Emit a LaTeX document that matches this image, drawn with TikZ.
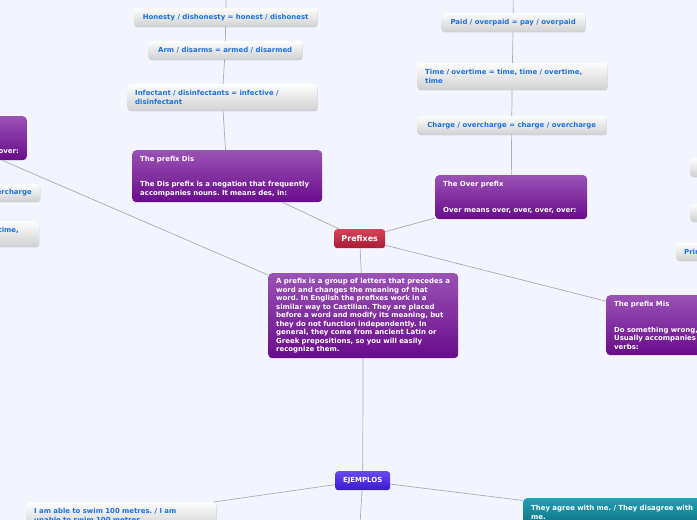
\documentclass[tikz,border=0pt]{standalone}
\usepackage{fontspec}
\setmainfont{DejaVu Sans}
\usepackage{tikz}
\usetikzlibrary{shadows}
\definecolor{pagebg}{HTML}{F2F5FE}
\definecolor{linegray}{HTML}{A8ADB8}
\definecolor{bluetext}{HTML}{1A73E0}
\definecolor{greytop}{HTML}{FDFDFD}
\definecolor{greybot}{HTML}{D2D2D2}
\definecolor{purpletop}{HTML}{9A52B5}
\definecolor{purplebot}{HTML}{690C8B}
\definecolor{redtop}{HTML}{D5435A}
\definecolor{redbot}{HTML}{A91B33}
\definecolor{violettop}{HTML}{6A4AF2}
\definecolor{violetbot}{HTML}{3A18CF}
\definecolor{tealtop}{HTML}{22A0B2}
\definecolor{tealbot}{HTML}{0C7183}
\frenchspacing
\tikzset{every node/.append style={font=\fontsize{6.95}{8.5}\selectfont\bfseries}}

\begin{document}
\begin{tikzpicture}[x=1pt,y=-1pt,
  link/.style={draw=linegray,line width=0.7pt},
  leaf/.style={rounded corners=3pt,top color=greytop,bottom color=greybot,text=bluetext,
    inner xsep=8pt,inner ysep=2pt,
    drop shadow={shadow xshift=0.5pt,shadow yshift=-1.2pt,opacity=0.3}},
  topic/.style={rounded corners=4pt,top color=purpletop,bottom color=purplebot,text=white,
    inner xsep=8pt,inner ysep=2pt,align=left},
  hub/.style={anchor=north west,rounded corners=3pt,text=white,inner sep=2pt}]
  \useasboundingbox (0,0) rectangle (697,520);
  \clip (0,0) rectangle (697,520);
  \fill[pagebg] (0,0) rectangle (697,520);

  \coordinate (hontop) at (227,-30);
  \coordinate (paidtop) at (513,-30);
  \coordinate (ejdown) at (359,540);

  \node[leaf,anchor=north west,minimum width=183pt,minimum height=18pt] (hon) at (134,8)
    {Honesty / dishonesty = honest / dishonest};
  \node[leaf,anchor=north west,minimum width=154pt,minimum height=18pt] (arm) at (148,41)
    {Arm / disarms = armed / disarmed};
  \node[leaf,anchor=north west,minimum width=190pt,minimum height=26pt,text width=174pt,align=left] (infect) at (127,84)
    {Infectant / disinfectants = infective /\\disinfectant};
  \node[topic,anchor=north west,minimum width=190pt,minimum height=52pt,text width=174pt] (dis) at (132,150)
    {The prefix Dis\\[17pt]The Dis prefix is a negation that frequently\\accompanies nouns. It means des, in:};

  \node[leaf,anchor=north west,minimum width=144pt,minimum height=18pt] (paid) at (441,13)
    {Paid / overpaid = pay / overpaid};
  \node[leaf,anchor=north west,minimum width=190pt,minimum height=26pt,text width=174pt,align=left] (time) at (417,63)
    {Time / overtime = time, time / overtime,\\time};
  \node[leaf,anchor=north west,minimum width=189pt,minimum height=18pt] (charge) at (417,116)
    {Charge / overcharge = charge / overcharge};
  \node[topic,anchor=north west,minimum width=152pt,minimum height=44pt,text width=136pt] (over) at (435,175)
    {The Over prefix\\[17pt]Over means over, over, over, over:};

  \node[hub,top color=redtop,bottom color=redbot,minimum width=51pt,minimum height=19pt,
    font=\fontsize{8}{9}\selectfont\bfseries] (prefixes) at (334,229) {Prefixes};
  \node[topic,anchor=north west,minimum width=190pt,minimum height=85pt,text width=174pt] (desc) at (268,273)
    {A prefix is a group of letters that precedes a\\word and changes the meaning of that\\word. In English the prefixes work in a\\similar way to Castilian. They are placed\\before a word and modify its meaning, but\\they do not function independently. In\\general, they come from ancient Latin or\\Greek prepositions, so you will easily\\recognize them.};
  \node[topic,anchor=north west,minimum width=190pt,minimum height=60pt,text width=174pt] (mis) at (606,295)
    {The prefix Mis\\[17pt]Do something wrong,\\Usually accompanies\\verbs:};

  \node[leaf,anchor=north west,minimum width=190pt,minimum height=18pt] (rightA) at (690,158) {};
  \node[leaf,anchor=north west,minimum width=190pt,minimum height=17pt] (rightB) at (690,204) {};
  \node[leaf,anchor=north west,minimum width=190pt,minimum height=17pt,text width=174pt,align=left] (rightC) at (676,243) {Prin};

  \node[topic,anchor=north east,minimum width=152pt,minimum height=44pt,text width=136pt,align=right] (leftover) at (27,116)
    {\vphantom{T}\\[17pt]over:};
  \node[leaf,anchor=north east,minimum width=190pt,minimum height=17pt,text width=174pt,align=right] (leftcharge) at (40,184)
    {ercharge};
  \node[leaf,anchor=north east,minimum width=190pt,minimum height=25pt,text width=150pt,align=right] (lefttime) at (39,221)
    {time,\\\vphantom{t}};

  \node[hub,top color=violettop,bottom color=violetbot,minimum width=55pt,minimum height=19pt] (ejemplos) at (335,471) {EJEMPLOS};
  \node[leaf,anchor=north west,minimum width=190pt,minimum height=26pt,text width=174pt,align=left] (iam) at (26,502)
    {I am able to swim 100 metres. / I am\\unable to swim 100 metres.};
  \node[topic,anchor=north west,top color=tealtop,bottom color=tealbot,minimum width=190pt,minimum height=28pt,text width=174pt] (agree) at (523,498)
    {They agree with me. / They disagree with\\me.};

  \draw[link] (hontop) -- (hon);
  \draw[link] (hon) -- (arm);
  \draw[link] (arm) -- (infect);
  \draw[link] (infect) -- (dis);
  \draw[link] (dis) -- (prefixes);
  \draw[link] (paidtop) -- (paid);
  \draw[link] (paid) -- (time);
  \draw[link] (time) -- (charge);
  \draw[link] (charge) -- (over);
  \draw[link] (over) -- (prefixes);
  \draw[link] (prefixes) -- (mis);
  \draw[link] (prefixes) -- (desc);
  \draw[link] (leftover) -- (desc);
  \draw[link] (desc) -- (ejemplos);
  \draw[link] (ejemplos) -- (iam);
  \draw[link] (ejemplos) -- (agree);
  \draw[link] (ejemplos) -- (ejdown);
\end{tikzpicture}
\end{document}
